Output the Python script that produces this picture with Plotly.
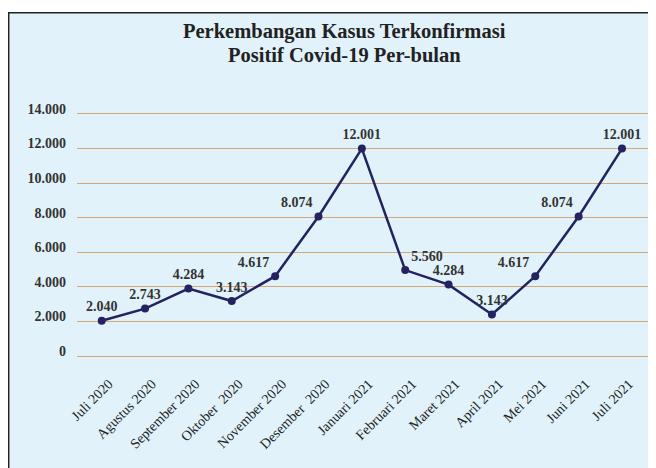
import plotly.graph_objects as go

months = ["Juli 2020", "Agustus 2020", "September 2020", "Oktober  2020", "November 2020",
          "Desember  2020", "Januari 2021", "Februari 2021", "Maret 2021", "April 2021",
          "Mei 2021", "Juni 2021", "Juli 2021"]
cases = [2040, 2743, 3900, 3180, 4617, 8074, 12001, 4970, 4130, 2400, 4617, 8074, 12001]
case_labels = ["2.040", "2.743", "4.284", "3.143", "4.617", "8.074", "12.001",
               "5.560", "4.284", "3.143", "4.617", "8.074", "12.001"]
y_ticks = [0, 2000, 4000, 6000, 8000, 10000, 12000, 14000]
y_tick_text = ["0", "2.000", "4.000", "6.000", "8.000", "10.000", "12.000", "14.000"]
title_lines = ["Perkembangan Kasus Terkonfirmasi", "Positif Covid-19 Per-bulan"]

label_pos = ["top center", "top center", "top center", "top center", "top left",
             "top left", "top center", "top right", "top center", "top center",
             "top left", "top left", "top center"]

BG = "#E1F2FA"
GRID = "#D6A774"
LINE = "#23235F"
TXT = "#333333"
FONT = "Liberation Serif"

# page body adds an 8px white margin, so the figure is drawn 8px smaller
W, H = 648, 460
L, R, T, B = 69, 8, 102, 108
pw = W - L - R
ph = H - T - B


def px_x(px):
    return (px - L) / pw


def px_y(py):
    return (H - B - py) / ph


fig = go.Figure()
fig.add_trace(go.Scatter(
    x=months, y=cases, mode="lines+markers+text",
    line=dict(color=LINE, width=2.5),
    marker=dict(color=LINE, size=8),
    text=case_labels, textposition=label_pos,
    textfont=dict(family=FONT, size=14, color=TXT, weight="bold"),
    cliponaxis=False, hoverinfo="skip",
))

fig.update_layout(
    width=W, height=H,
    margin=dict(l=L, r=R, t=T, b=B, pad=0),
    paper_bgcolor=BG, plot_bgcolor=BG,
    showlegend=False,
    xaxis=dict(range=[-0.57, 12.6], showgrid=False, zeroline=False, showline=False,
               tickangle=-45, ticks="", ticklabelstandoff=12, ticklabelshift=7,
               automargin=False,
               tickfont=dict(family=FONT, size=14, color="#222222")),
    yaxis=dict(range=[-231, 14231], tickvals=y_ticks, ticktext=y_tick_text,
               showgrid=True, gridcolor=GRID, gridwidth=1.3, zeroline=False,
               showline=False, ticks="", ticklabelstandoff=10, ticklabelshift=-5,
               automargin=False,
               tickfont=dict(family=FONT, size=14, color=TXT, weight="bold")),
)

for txt, yc in zip(title_lines, [24, 47]):
    fig.add_annotation(text=txt, xref="paper", yref="paper", x=px_x(336.5), y=px_y(yc),
                       xanchor="center", yanchor="middle", showarrow=False,
                       font=dict(family=FONT, size=20.5, color="#222222", weight="bold"))

# white strip above the frame and the frame border
fig.add_shape(type="rect", xref="paper", yref="paper", layer="below",
              x0=px_x(-5), x1=px_x(W + 5), y0=px_y(4.7), y1=px_y(-5),
              fillcolor="white", line=dict(width=0))
fig.add_shape(type="line", xref="paper", yref="paper", layer="below",
              x0=px_x(0), x1=px_x(W + 5), y0=px_y(4.7), y1=px_y(4.7),
              line=dict(color="#222222", width=1.5))
fig.add_shape(type="line", xref="paper", yref="paper", layer="below",
              x0=px_x(0.7), x1=px_x(0.7), y0=px_y(4.7), y1=px_y(H + 5),
              line=dict(color="#222222", width=1.5))

fig.write_html("out.html")
